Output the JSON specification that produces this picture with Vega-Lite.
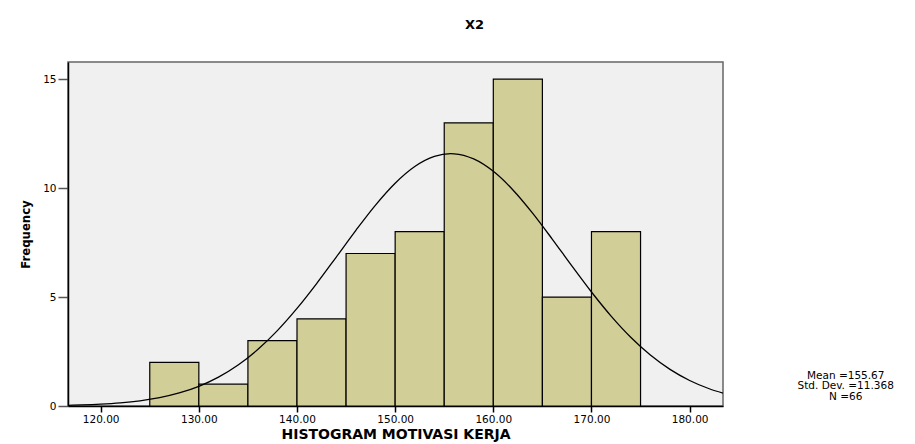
{
  "$schema": "https://vega.github.io/schema/vega-lite/v6.json",
  "autosize": {"type": "none"},
  "width": 655,
  "height": 344,
  "padding": {"left": 68, "top": 62, "right": 192, "bottom": 38},
  "background": "white",
  "title": {"text": "X2", "fontSize": 13, "fontWeight": "bold", "font": "DejaVu Sans", "color": "#000", "anchor": "middle", "dx": 79, "offset": 30},
  "config": {
    "view": {"fill": "#F0F0F0", "stroke": "#666", "strokeWidth": 1.5},
    "axis": {"labelFont": "DejaVu Sans", "titleFont": "DejaVu Sans", "labelColor": "#000", "titleColor": "#000", "grid": false}
  },
  "datasets": {
    "bins": [
      {"bin_start": 125, "bin_end": 130, "count": 2},
      {"bin_start": 130, "bin_end": 135, "count": 1},
      {"bin_start": 135, "bin_end": 140, "count": 3},
      {"bin_start": 140, "bin_end": 145, "count": 4},
      {"bin_start": 145, "bin_end": 150, "count": 7},
      {"bin_start": 150, "bin_end": 155, "count": 8},
      {"bin_start": 155, "bin_end": 160, "count": 13},
      {"bin_start": 160, "bin_end": 165, "count": 15},
      {"bin_start": 165, "bin_end": 170, "count": 5},
      {"bin_start": 170, "bin_end": 175, "count": 8}
    ],
    "curve": [
      {"x": 116.7, "y": 0.0325}, {"x": 118, "y": 0.0478}, {"x": 120, "y": 0.0843},
      {"x": 122, "y": 0.1443}, {"x": 124, "y": 0.2391}, {"x": 126, "y": 0.3842},
      {"x": 128, "y": 0.5989}, {"x": 130, "y": 0.9046}, {"x": 132, "y": 1.3256},
      {"x": 134, "y": 1.8822}, {"x": 136, "y": 2.5919}, {"x": 138, "y": 3.4604},
      {"x": 140, "y": 4.4786}, {"x": 142, "y": 5.6199}, {"x": 144, "y": 6.8379},
      {"x": 146, "y": 8.065}, {"x": 148, "y": 9.2234}, {"x": 150, "y": 10.2264},
      {"x": 152, "y": 10.9928}, {"x": 154, "y": 11.4566}, {"x": 155.67, "y": 11.5809},
      {"x": 156, "y": 11.576}, {"x": 158, "y": 11.3402}, {"x": 160, "y": 10.7706},
      {"x": 162, "y": 9.9178}, {"x": 164, "y": 8.8541}, {"x": 166, "y": 7.6642},
      {"x": 168, "y": 6.4312}, {"x": 170, "y": 5.2323}, {"x": 172, "y": 4.1277},
      {"x": 174, "y": 3.1565}, {"x": 176, "y": 2.3399}, {"x": 178, "y": 1.6824},
      {"x": 180, "y": 1.1723}, {"x": 182, "y": 0.7922}, {"x": 183.4, "y": 0.5912}
    ],
    "stats": [
      {"label": "Mean =155.67\nStd. Dev. =11.368\nN =66"}
    ]
  },
  "layer": [
    {
      "data": {"name": "bins"},
      "mark": {"type": "rect", "fill": "#D2CE98", "stroke": "#000", "strokeWidth": 1.2},
      "encoding": {
        "x": {"field": "bin_start", "type": "quantitative",
              "scale": {"domain": [116.67, 183.4], "nice": false, "zero": false},
              "axis": {"values": [120, 130, 140, 150, 160, 170, 180], "format": ".2f",
                       "labelFontSize": 10.5, "tickColor": "#000", "tickSize": 6, "tickWidth": 1.5,
                       "domainColor": "#000", "domainWidth": 1.5, "labelPadding": 2,
                       "title": "HISTOGRAM MOTIVASI KERJA", "titleFontSize": 14, "titleFontWeight": "bold",
                       "titlePadding": 3, "labelFlush": false}},
        "x2": {"field": "bin_end"},
        "y": {"field": "count", "type": "quantitative",
              "scale": {"domain": [0, 15.79], "nice": false},
              "axis": {"values": [0, 5, 10, 15], "labelFontSize": 10.5, "tickColor": "#555", "tickSize": 10,
                       "tickWidth": 1.5, "domainColor": "#000", "domainWidth": 1.5, "labelPadding": 2,
                       "title": "Frequency", "titleFont": "DejaVu Sans Condensed, Liberation Sans, sans-serif", "titleFontSize": 13,
                       "titleFontWeight": "bold", "titlePadding": 10}},
        "y2": {"datum": 0}
      }
    },
    {
      "data": {"name": "curve"},
      "mark": {"type": "line", "color": "#000", "strokeWidth": 1.3, "clip": true, "interpolate": "monotone"},
      "encoding": {
        "x": {"field": "x", "type": "quantitative"},
        "y": {"field": "y", "type": "quantitative"}
      }
    },
    {
      "data": {"name": "stats"},
      "mark": {"type": "text", "font": "DejaVu Sans", "fontSize": 10.5, "lineBreak": "\n", "lineHeight": 10.5,
               "align": "center", "baseline": "top", "color": "#000", "clip": false},
      "encoding": {
        "x": {"datum": 195.9, "type": "quantitative"},
        "y": {"datum": 1.62, "type": "quantitative"},
        "text": {"field": "label"}
      }
    }
  ]
}
